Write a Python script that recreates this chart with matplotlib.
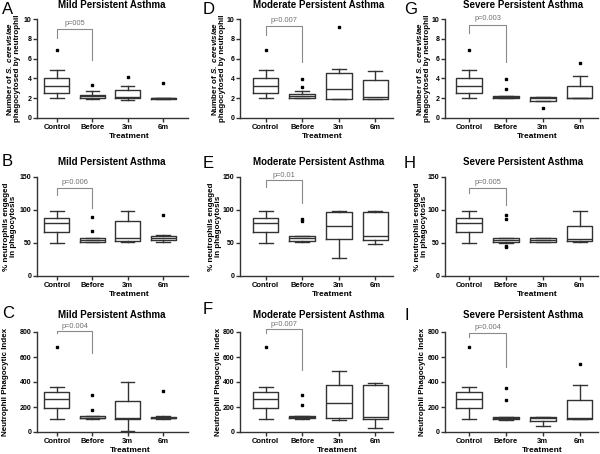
import matplotlib
matplotlib.use('Agg')
import matplotlib.pyplot as plt

plt.rcParams['font.family'] = 'Liberation Sans'
plt.rcParams['mathtext.fontset'] = 'custom'
plt.rcParams['mathtext.it'] = 'Liberation Sans:bold:italic'
plt.rcParams['mathtext.rm'] = 'Liberation Sans:bold'

groups = ['Control', 'Before', '3m', '6m']

# box stats per group: [whisker low, q1, median, q3, whisker high]
count_mild = [[2.0, 2.5, 3.2, 4.05, 4.8], [1.9, 2.0, 2.2, 2.35, 2.75],
              [1.8, 2.0, 2.1, 2.85, 3.2], [1.9, 1.95, 2.0, 2.05, 2.05]]
count_mild_out = [[6.9], [3.3], [4.1], [3.5]]
count_mod = [[2.0, 2.5, 3.2, 4.05, 4.8], [2.0, 2.05, 2.2, 2.45, 2.7],
             [1.9, 1.95, 2.9, 4.55, 5.0], [1.9, 1.95, 2.1, 3.8, 4.7]]
count_mod_out = [[6.9], [3.15, 3.95], [9.2], []]
count_sev = [[2.0, 2.5, 3.2, 4.05, 4.8], [2.0, 2.05, 2.15, 2.25, 2.25],
             [1.7, 1.75, 2.0, 2.15, 2.15], [2.0, 2.0, 2.05, 3.2, 4.2]]
count_sev_out = [[6.9], [2.95, 3.9], [1.0], [5.6]]

pct_mild = [[50, 67, 80, 88, 98], [51, 52, 55, 57, 57],
            [51, 53, 57, 84, 98], [52, 55, 57, 60, 62]]
pct_mild_out = [[], [68, 90], [], [93]]
pct_mod = [[50, 67, 80, 88, 98], [52, 53, 57, 60, 60],
           [27, 56, 75, 97, 99], [49, 54, 60, 97, 99]]
pct_mod_out = [[], [83, 87], [], []]
pct_sev = [[50, 67, 80, 88, 98], [50, 52, 55, 57, 58],
           [51, 52, 55, 57, 57], [52, 53, 56, 76, 98]]
pct_sev_out = [[], [44, 46, 87, 92], [], []]

idx_mild = [[105, 195, 262, 320, 360], [105, 110, 115, 130, 130],
            [10, 105, 110, 245, 400], [105, 110, 115, 120, 125]]
idx_mild_out = [[680], [180, 295], [], [325]]
idx_mod = [[105, 195, 262, 320, 360], [105, 110, 120, 130, 130],
           [100, 110, 235, 375, 490], [35, 105, 120, 375, 390]]
idx_mod_out = [[680], [220, 300], [], []]
idx_sev = [[105, 195, 262, 320, 360], [100, 105, 115, 120, 120],
           [50, 85, 110, 120, 120], [105, 105, 110, 255, 380]]
idx_sev_out = [[680], [260, 355], [], [545]]

# bracket: top, left leg bottom, right leg bottom, label height, label
brackets = [
    [(9.0, 8.1, 5.9, 9.5, 'p=005'), (9.3, 8.4, 5.7, 9.8, 'p=0.007'),
     (9.4, 8.6, 5.7, 10.1, 'p=0.003')],
    [(134, 122, 103, 141, 'p=0.006'), (145, 135, 110, 152, 'p=0.01'),
     (134, 126, 108, 142, 'p=0.005')],
    [(810, 790, 630, 842, 'p=0.004'), (821, 790, 500, 858, 'p=0.007'),
     (794, 762, 522, 838, 'p=0.004')],
]

stats = [
    [(count_mild, count_mild_out), (count_mod, count_mod_out), (count_sev, count_sev_out)],
    [(pct_mild, pct_mild_out), (pct_mod, pct_mod_out), (pct_sev, pct_sev_out)],
    [(idx_mild, idx_mild_out), (idx_mod, idx_mod_out), (idx_sev, idx_sev_out)],
]

titles = ['Mild Persistent Asthma', 'Moderate Persistent Asthma', 'Severe Persistent Asthma']
letters = [['A', 'D', 'G'], ['B', 'E', 'H'], ['C', 'F', 'I']]
ylabels = ['Number of $S.\\ cerevisiae$\nphagocytosed by neutrophil',
           '% neutrophils engaged\nin phagocytosis',
           'Neutrophil Phagocytic Index']
yranges = [(10, [0, 2, 4, 6, 8, 10]), (150, [0, 50, 100, 150]), (800, [0, 200, 400, 600, 800])]

W, H = 600, 454
cols = [(37, 188, 0.44, 4.7), (240, 393, 0.30, 4.48), (445, 598, 0.34, 4.5)]
rows = [(19, 118), (177, 276), (332, 432)]
title_y = [5, 162, 315]
title_x = [112, 319, 523]
ylab_x = [[13, 218, 423], [10, 215, 421], [6, 219, 423]]
xlab_x = [[129, 322, 537], [129, 332, 537], [130, 337, 542]]
xlab_y = [137, 295, 450]
letter_y = [[9, 9, 10], [162, 163, 163], [313, 309, 315]]

fig = plt.figure(figsize=(6, 4.54), dpi=100)
dark = '#333333'

for r in range(3):
    for c in range(3):
        x0, x1, xl, xr = cols[c]
        yt, yb = rows[r]
        ax = fig.add_axes([x0 / W, 1 - yb / H, (x1 - x0) / W, (yb - yt) / H])
        box, out = stats[r][c]
        bxp = []
        for i, g in enumerate(groups):
            lo, q1, med, q3, hi = box[i]
            bxp.append(dict(whislo=lo, q1=q1, med=med, q3=q3, whishi=hi,
                            fliers=out[i], label=g))
        ax.bxp(bxp, positions=[1, 2, 3, 4], widths=0.7, capwidths=0.38,
               boxprops=dict(color=dark, lw=1),
               whiskerprops=dict(color=dark, lw=1),
               capprops=dict(color=dark, lw=1),
               medianprops=dict(color=dark, lw=1),
               flierprops=dict(marker='s', markersize=1.6, markerfacecolor='black',
                               markeredgecolor='black'))
        ymax, yt_ticks = yranges[r]
        ax.set_ylim(0, ymax)
        ax.set_yticks(yt_ticks)
        ax.set_xlim(xl, xr)
        ax.set_xticks([1, 2, 3, 4])
        ax.set_xticklabels(groups)
        for s in ['top', 'right']:
            ax.spines[s].set_visible(False)
        for s in ['left', 'bottom']:
            ax.spines[s].set_color(dark)
            ax.spines[s].set_linewidth(1)
        ax.spines['left'].set_bounds(0, ymax)
        ax.tick_params(axis='y', labelsize=5, length=3, width=1, color=dark, pad=1)
        ax.tick_params(axis='x', labelsize=5.5, length=3, width=1, color=dark, pad=1.5)
        for lab in ax.get_xticklabels() + ax.get_yticklabels():
            lab.set_fontweight('bold')

        top, lb, rb, ty, ptxt = brackets[r][c]
        ax.plot([1, 1, 2, 2], [lb, top, top, rb], color='#8a8a8a', lw=0.8, clip_on=False)
        ax.text(1.5, ty, ptxt, ha='center', va='center',
                fontsize=5.3, color='#707070')

        fig.text(title_x[c] / W, 1 - title_y[r] / H, titles[c], ha='center', va='center',
                 fontsize=7, fontweight='bold')
        fig.text(2 / W + c * 201 / W, 1 - letter_y[r][c] / H, letters[r][c],
                 ha='left', va='center', fontsize=12)
        fig.text(ylab_x[r][c] / W, 1 - (yt + yb) / 2 / H, ylabels[r], rotation=90,
                 ha='center', va='center', fontsize=5.8, fontweight='bold',
                 multialignment='center', linespacing=1.05)
        fig.text(xlab_x[r][c] / W, 1 - xlab_y[r] / H, 'Treatment', ha='center',
                 va='center', fontsize=6, fontweight='bold')

fig.savefig('out.png', dpi=100)
